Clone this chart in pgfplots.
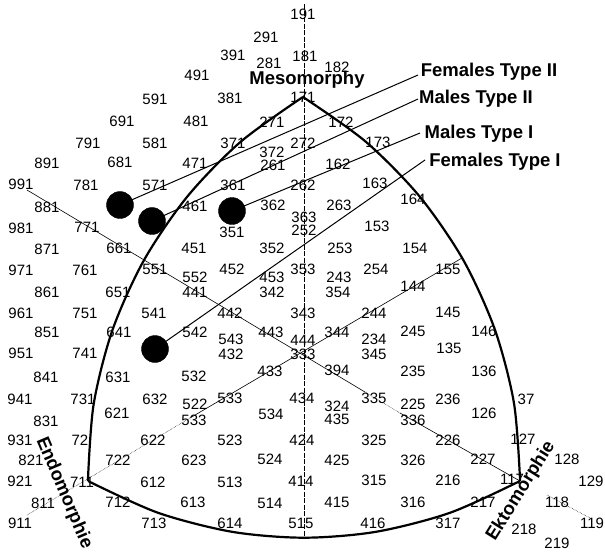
\documentclass[border=0pt]{standalone}
\usepackage{fontspec}
\setmainfont{Liberation Sans}
\usepackage{pgfplots}
\pgfplotsset{compat=1.18}
\begin{document}
\begin{tikzpicture}
\begin{axis}[x=1pt,y=1pt,xmin=0,xmax=605,ymin=0,ymax=555,y dir=reverse,
  hide axis,scale only axis,clip=false]
% frame for bounding box
\addplot[draw=none,forget plot] coordinates {(0,0) (605,555)};
% reference lines
\addplot[black,line width=0.5pt,dash pattern=on 5pt off 1.5pt] coordinates {(304,4) (304,537)};
\addplot[black,line width=0.6pt] coordinates {(27,190) (365,392)};
\addplot[black,line width=0.5pt,densely dotted] coordinates {(365,392) (400,413)};
\addplot[black,line width=0.6pt] coordinates {(400,413) (520,481)};
\addplot[black,line width=0.5pt,densely dotted] coordinates {(547,495) (590,518)};
\addplot[black,line width=0.5pt,densely dotted] coordinates {(27,515) (190,418)};
\addplot[black,line width=0.6pt] coordinates {(190,418) (462,258)};
% Reuleaux-like outline
\addplot[black,line width=2.2pt,smooth] coordinates {(87.9,481.0) (93.6,404.5) (112.4,330.2) (143.9,260.3) (187.2,196.7) (240.5,141.9) (303.0,96.9)};
\addplot[black,line width=2.2pt,smooth] coordinates {(303.0,97.0) (365.4,141.4) (419.3,196.1) (462.9,259.3) (494.7,329.1) (514.0,403.3) (520.1,481.0)};
\addplot[black,line width=2.2pt,smooth] coordinates {(88,481) (157.8,512.7) (232.1,531.8) (304,537.7) (375.9,531.8) (450.2,512.7) (520,481)};
% pointer lines
\addplot[black,line width=1pt] coordinates {(120,205) (418,75)};
\addplot[black,line width=1pt] coordinates {(152,221) (418,99)};
\addplot[black,line width=1pt] coordinates {(232,211) (420,133)};
\addplot[black,line width=1pt] coordinates {(155,349) (425,160)};
% dots
\addplot[only marks,mark=*,mark size=13.5pt,black] coordinates {(120,205) (152,221) (232,211) (155,349)};
% number labels
\addplot[only marks,mark=none,nodes near coords={\pgfplotspointmeta},point meta=explicit symbolic,
  every node near coord/.append style={anchor=center,inner sep=0pt,font=\fontsize{15}{15}\selectfont}]
coordinates {
(303,14)[191] (266,37)[291] (233,55)[391] (305,56)[181] (269,63)[281] (337,67)[182]
(197,75)[491] (155,99)[591] (230,98)[381] (303,97)[171]
(122,121)[691] (196,121)[481] (272,122)[271] (341,122)[172]
(88,143)[791] (155,143)[581] (233,143)[371] (272,152)[372] (303,143)[272] (378,142)[173]
(47,163)[891] (120,162)[681] (195,163)[471] (273,165)[261] (338,164)[162]
(21,184)[991] (86,185)[781] (155,185)[571] (233,185)[361] (303,185)[262] (375,183)[163]
(47,207)[881] (195,206)[461] (273,205)[362] (339,205)[263] (413,199)[164]
(21,228)[981] (87,227)[771] (232,232)[351] (304,217)[363] (304,230)[252] (377,226)[153]
(47,249)[871] (119,248)[661] (194,248)[451] (272,248)[352] (340,248)[253] (415,248)[154]
(21,270)[971] (85,270)[761] (155,269)[551] (195,277)[552] (232,269)[452] (272,277)[453] (303,269)[353] (339,277)[243] (376,269)[254] (448,269)[155]
(47,292)[861] (118,292)[651] (195,292)[441] (272,292)[342] (338,292)[354] (413,286)[144]
(21,313)[961] (85,313)[751] (154,313)[541] (230,313)[442] (303,313)[343] (374,313)[244] (448,312)[145]
(47,332)[851] (119,332)[641] (195,332)[542] (271,332)[443] (337,332)[344] (413,331)[245] (484,331)[146]
(231,339)[543] (303,340)[444] (374,339)[234]
(21,353)[951] (85,353)[741] (231,354)[432] (303,354)[333] (374,354)[345] (449,348)[135]
(46,377)[841] (118,377)[631] (194,376)[532] (270,371)[433] (337,370)[394] (413,371)[235] (484,371)[136]
(20,399)[941] (83,399)[731] (155,399)[632] (195,404)[522] (230,398)[533] (302,398)[434] (337,406)[324] (374,398)[335] (413,404)[225] (448,399)[236] (526,399)[37]
(117,413)[621] (194,420)[533] (271,414)[534] (337,419)[435] (413,420)[336] (484,413)[126] (46,421)[831]
(20,440)[931] (80,440)[72] (153,440)[622] (230,440)[523] (302,440)[424] (374,440)[325] (448,440)[226] (523,439)[127]
(31,460)[821] (118,460)[722] (194,460)[623] (270,459)[524] (337,460)[425] (413,460)[326] (483,459)[227] (567,459)[128]
(20,481)[921] (82,482)[711] (153,482)[612] (230,482)[513] (301,481)[414] (374,480)[315] (448,480)[216] (512,479)[117] (591,481)[129]
(43,503)[811] (118,502)[712] (193,502)[613] (270,503)[514] (337,502)[415] (413,502)[316] (483,502)[217] (557,502)[118]
(20,523)[911] (154,523)[713] (230,523)[614] (301,523)[515] (373,523)[416] (448,523)[317] (524,529)[218] (592,523)[119]
(557,543)[219]
};
% bold titles
\addplot[only marks,mark=none,nodes near coords={\pgfplotspointmeta},point meta=explicit symbolic,
  every node near coord/.append style={anchor=center,inner sep=0pt,font=\fontsize{18.5}{18.5}\selectfont\bfseries}]
coordinates {
(307,80)[Mesomorphy] (489,72)[Females Type II] (476,99)[Males Type II] (479,134)[Males Type I] (495,162)[Females Type I]
};
\addplot[only marks,mark=none,nodes near coords={\pgfplotspointmeta},point meta=explicit symbolic,
  every node near coord/.append style={anchor=center,inner sep=0pt,rotate=-67,font=\fontsize{18.5}{18.5}\selectfont\bfseries}]
coordinates {(64,493)[Endomorphie]};
\addplot[only marks,mark=none,nodes near coords={\pgfplotspointmeta},point meta=explicit symbolic,
  every node near coord/.append style={anchor=center,inner sep=0pt,rotate=58,font=\fontsize{18.5}{18.5}\selectfont\bfseries}]
coordinates {(521,491)[Ektomorphie]};
\end{axis}
\end{tikzpicture}
\end{document}
